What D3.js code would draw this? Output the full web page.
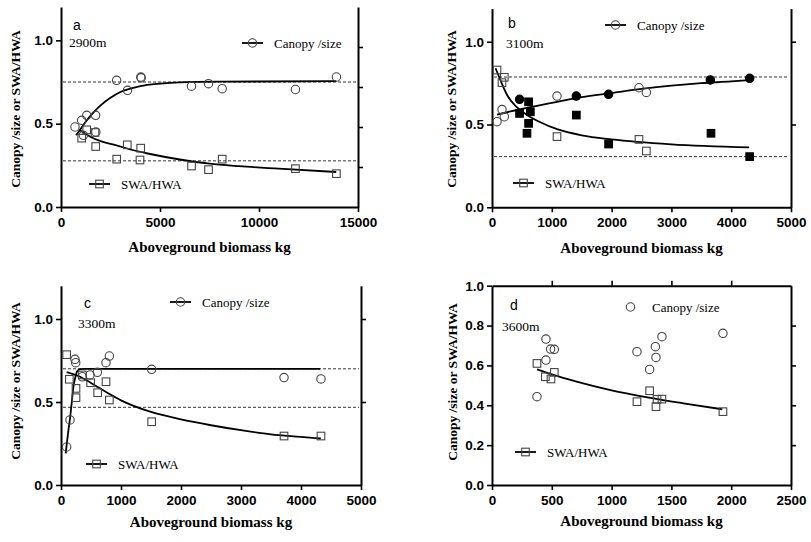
<!DOCTYPE html>
<html>
<head>
<meta charset="utf-8">
<script src="https://cdn.jsdelivr.net/npm/d3@7"></script>
<style>
body { margin: 0; background: #fff; }
svg { display: block; }
</style>
</head>
<body>
<div id="chart"></div>
<script>
// panel a - 2900m
var aCanopy = [[707,0.48],[1045,0.52],[1130,0.43],[1300,0.55],[1750,0.55],[1760,0.45],[2810,0.76],[3360,0.70],[4030,0.78],[4050,0.775],[6590,0.725],[7450,0.74],[8140,0.71],[11840,0.705],[13910,0.78]];
var aSwa = [[1045,0.413],[1298,0.463],[1717,0.447],[1752,0.363],[3348,0.373],[4025,0.353],[2813,0.287],[3990,0.282],[6593,0.246],[7451,0.224],[8141,0.287],[11841,0.230],[13910,0.200]];
var aCanopyFit = [[760,0.43],[1000,0.47],[1300,0.52],[1620,0.565],[2000,0.61],[2500,0.655],[3000,0.69],[3500,0.71],[4000,0.725],[5000,0.74],[6000,0.748],[8000,0.752],[13900,0.755]];
var aSwaFit = [[960,0.46],[1500,0.42],[2000,0.395],[2800,0.37],[3500,0.345],[4500,0.318],[6000,0.285],[7500,0.26],[9000,0.245],[11000,0.23],[13900,0.21]];
var aDashed = [0.75, 0.277];

// panel b - 3100m (open and filled symbols)
var bCanopyOpen = [[84,0.517],[167,0.59],[206,0.547],[1087,0.672],[2458,0.722],[2581,0.694]];
var bCanopyFilled = [[461,0.652],[1410,0.672],[1950,0.682],[3651,0.769],[4309,0.779]];
var bSwaOpen = [[84,0.829],[167,0.753],[206,0.785],[1087,0.427],[2458,0.41],[2581,0.34]];
var bSwaFilled = [[461,0.567],[612,0.637],[641,0.577],[612,0.507],[585,0.447],[1410,0.557],[1950,0.382],[3662,0.447],[4309,0.306]];
var bCanopyFit = [[84,0.56],[500,0.595],[1000,0.63],[1500,0.665],[2000,0.69],[2500,0.715],[3000,0.735],[3500,0.75],[4000,0.76],[4300,0.768]];
var bSwaFit = [[60,0.84],[150,0.76],[250,0.68],[400,0.61],[600,0.555],[800,0.515],[1100,0.47],[1500,0.435],[2000,0.41],[3000,0.38],[4300,0.362]];
var bDashed = [0.787, 0.306];

// panel c - 3300m
var cCanopy = [[94,0.229],[150,0.392],[233,0.757],[245,0.737],[356,0.652],[483,0.663],[606,0.679],[750,0.737],[806,0.777],[1511,0.697],[3717,0.647],[4333,0.639]];
var cSwa = [[94,0.785],[139,0.637],[250,0.582],[250,0.526],[356,0.663],[494,0.616],[611,0.556],[750,0.622],[806,0.512],[1511,0.381],[3717,0.295],[4333,0.295]];
var cCanopyFit = [[78,0.19],[120,0.32],[150,0.40],[180,0.50],[206,0.59],[240,0.65],[270,0.685],[320,0.698],[400,0.70],[4320,0.70]];
var cSwaFit = [[94,0.68],[300,0.655],[500,0.615],[800,0.55],[1000,0.51],[1500,0.44],[2000,0.395],[2500,0.36],[3000,0.33],[3500,0.305],[4000,0.29],[4330,0.28]];
var cDashed = [0.70, 0.468];

// panel d - 3600m
var dCanopy = [[376,0.443],[451,0.732],[451,0.627],[490,0.682],[521,0.681],[1212,0.669],[1318,0.580],[1366,0.694],[1371,0.640],[1421,0.744],[1931,0.761]];
var dSwa = [[376,0.610],[446,0.543],[493,0.532],[521,0.565],[1212,0.418],[1318,0.473],[1371,0.393],[1380,0.43],[1421,0.431],[1931,0.368]];
var dSwaFit = [[376,0.58],[500,0.555],[700,0.52],[1000,0.475],[1300,0.44],[1600,0.41],[1925,0.38]];

var xTicksA = [0, 5000, 10000, 15000];
var xTicksB = [0, 1000, 2000, 3000, 4000, 5000];
var xTicksD = [0, 500, 1000, 1500, 2000, 2500];
var yTicksABC = [0, 0.5, 1.0];
var yTicksD = [0, 0.2, 0.4, 0.6, 0.8, 1.0];

var panels = [
	{letter: 'a', site: '2900m', left: 61, right: 358, top: 7, bottom: 207, xMax: 15000, yMax: 1.2,
	 xTicks: xTicksA, yTicks: yTicksABC, rightTicks: [0.24, 0.48, 0.72, 0.96], topAxis: false,
	 canopy: aCanopy, canopyFilled: [], swa: aSwa, swaFilled: [], canopyFit: aCanopyFit, swaFit: aSwaFit, dashed: aDashed,
	 letterPos: [73, 30], sitePos: [69, 47], legC: [242, 43], legCLine: true, legS: [89, 184], yTitle: [15, 109], xTitleY: 252},
	{letter: 'b', site: '3100m', left: 492, right: 791, top: 8.6, bottom: 207.3, xMax: 5000, yMax: 1.2,
	 xTicks: xTicksB, yTicks: yTicksABC, rightTicks: [0.5, 1.0], topAxis: false,
	 canopy: bCanopyOpen, canopyFilled: bCanopyFilled, swa: bSwaOpen, swaFilled: bSwaFilled, canopyFit: bCanopyFit, swaFit: bSwaFit, dashed: bDashed,
	 letterPos: [508, 28], sitePos: [506, 48], legC: [605, 25], legCLine: true, legS: [513, 183], yTitle: [451, 109], xTitleY: 253},
	{letter: 'c', site: '3300m', left: 61, right: 361, top: 285.8, bottom: 485, xMax: 5000, yMax: 1.2,
	 xTicks: xTicksB, yTicks: yTicksABC, rightTicks: [0.5, 1.0], topAxis: false,
	 canopy: cCanopy, canopyFilled: [], swa: cSwa, swaFilled: [], canopyFit: cCanopyFit, swaFit: cSwaFit, dashed: cDashed,
	 letterPos: [84, 308], sitePos: [78, 328], legC: [170, 302], legCLine: true, legS: [86, 464], yTitle: [15, 381], xTitleY: 527},
	{letter: 'd', site: '3600m', left: 492, right: 791, top: 285.7, bottom: 485, xMax: 2500, yMax: 1.0,
	 xTicks: xTicksD, yTicks: yTicksD, rightTicks: [0.2, 0.4, 0.6, 0.8], topAxis: true,
	 canopy: dCanopy, canopyFilled: [], swa: dSwa, swaFilled: [], canopyFit: null, swaFit: dSwaFit, dashed: [],
	 letterPos: [510, 310], sitePos: [502, 331], legC: [620, 307], legCLine: false, legS: [515, 452], yTitle: [452, 382], xTitleY: 526}
];

var svg = d3.select('#chart').append('svg')
	.attr('width', 811).attr('height', 542)
	.style('font-family', '"Liberation Serif", "Times New Roman", serif');

var markerStroke = '#444';

function drawCircle(g, cx, cy, filled) {
	g.append('circle').attr('cx', cx).attr('cy', cy).attr('r', 4.2)
		.attr('fill', filled ? '#000' : 'none')
		.attr('stroke', filled ? '#000' : markerStroke).attr('stroke-width', 1.1);
}

function drawSquare(g, cx, cy, filled) {
	var s = 7.6;
	g.append('rect').attr('x', cx - s / 2).attr('y', cy - s / 2).attr('width', s).attr('height', s)
		.attr('fill', filled ? '#000' : 'none')
		.attr('stroke', filled ? '#000' : markerStroke).attr('stroke-width', 1.1);
}

function drawPanel(p) {
	var x = d3.scaleLinear().domain([0, p.xMax]).range([p.left, p.right]);
	var y = d3.scaleLinear().domain([0, p.yMax]).range([p.bottom, p.top]);
	var g = svg.append('g');

	// axes
	var xAxis = g.append('g').attr('transform', 'translate(0,' + p.bottom + ')')
		.call(d3.axisBottom(x).tickValues(p.xTicks).tickSize(5).tickSizeOuter(0).tickPadding(5).tickFormat(d3.format('d')));
	var yAxis = g.append('g').attr('transform', 'translate(' + p.left + ',0)')
		.call(d3.axisLeft(y).tickValues(p.yTicks).tickSize(5).tickSizeOuter(0).tickPadding(3).tickFormat(d3.format('.1f')));
	var rAxis = g.append('g').attr('transform', 'translate(' + p.right + ',0)')
		.call(d3.axisRight(y).tickValues(p.rightTicks).tickSize(5).tickSizeOuter(0).tickFormat(''));
	var axes = [xAxis, yAxis, rAxis];
	if (p.topAxis) {
		var tAxis = g.append('g').attr('transform', 'translate(0,' + p.top + ')')
			.call(d3.axisTop(x).tickValues(p.xTicks.slice(1, -1)).tickSize(5).tickSizeOuter(0).tickFormat(''));
		axes.push(tAxis);
	}
	axes.forEach(function(a) {
		a.select('.domain').attr('stroke', '#000').attr('stroke-width', 2);
		a.selectAll('.tick line').attr('stroke', '#000').attr('stroke-width', 1.6);
		a.selectAll('.tick text')
			.style('font-family', '"Liberation Sans", Arial, sans-serif')
			.style('font-weight', 'bold').style('font-size', '13.5px').attr('fill', '#000');
	});

	// reference lines
	p.dashed.forEach(function(v) {
		g.append('line').attr('x1', p.left + 2).attr('x2', p.right - 2)
			.attr('y1', y(v)).attr('y2', y(v))
			.attr('stroke', '#333').attr('stroke-width', 1).attr('stroke-dasharray', '3,2');
	});

	// fitted curves
	var line = d3.line().x(function(d) { return x(d[0]); }).y(function(d) { return y(d[1]); })
		.curve(d3.curveMonotoneX);
	[p.canopyFit, p.swaFit].forEach(function(fit) {
		if (!fit) return;
		g.append('path').datum(fit).attr('d', line)
			.attr('fill', 'none').attr('stroke', '#000').attr('stroke-width', 1.8);
	});

	// points
	p.canopy.forEach(function(d) { drawCircle(g, x(d[0]), y(d[1]), false); });
	p.swa.forEach(function(d) { drawSquare(g, x(d[0]), y(d[1]), false); });
	p.canopyFilled.forEach(function(d) { drawCircle(g, x(d[0]), y(d[1]), true); });
	p.swaFilled.forEach(function(d) { drawSquare(g, x(d[0]), y(d[1]), true); });

	// panel letter and site
	g.append('text').attr('x', p.letterPos[0]).attr('y', p.letterPos[1])
		.style('font-family', '"Liberation Sans", Arial, sans-serif').style('font-size', '14px')
		.text(p.letter);
	g.append('text').attr('x', p.sitePos[0]).attr('y', p.sitePos[1])
		.style('font-size', '13.5px').text(p.site);

	// legend
	if (p.legCLine) {
		g.append('line').attr('x1', p.legC[0]).attr('x2', p.legC[0] + 21).attr('y1', p.legC[1]).attr('y2', p.legC[1])
			.attr('stroke', '#000').attr('stroke-width', 1.8);
	}
	drawCircle(g, p.legC[0] + 10.5, p.legC[1], false);
	g.append('text').attr('x', p.legC[0] + 32).attr('y', p.legC[1] + 4.5)
		.style('font-size', '13px').text('Canopy /size');
	g.append('line').attr('x1', p.legS[0]).attr('x2', p.legS[0] + 21).attr('y1', p.legS[1]).attr('y2', p.legS[1])
		.attr('stroke', '#000').attr('stroke-width', 1.8);
	drawSquare(g, p.legS[0] + 10.5, p.legS[1], false);
	g.append('text').attr('x', p.legS[0] + 32).attr('y', p.legS[1] + 4.5)
		.style('font-size', '13px').text('SWA/HWA');

	// axis titles
	g.append('text')
		.attr('transform', 'translate(' + p.yTitle[0] + ',' + p.yTitle[1] + ') rotate(-90)')
		.attr('text-anchor', 'middle').attr('dy', '0.35em')
		.style('font-weight', 'bold').style('font-size', '13.5px')
		.text('Canopy /size or SWA/HWA');
	g.append('text').attr('x', (p.left + p.right) / 2).attr('y', p.xTitleY)
		.attr('text-anchor', 'middle')
		.style('font-weight', 'bold').style('font-size', '15px')
		.text('Aboveground biomass kg');
}

panels.forEach(drawPanel);
</script>
</body>
</html>
